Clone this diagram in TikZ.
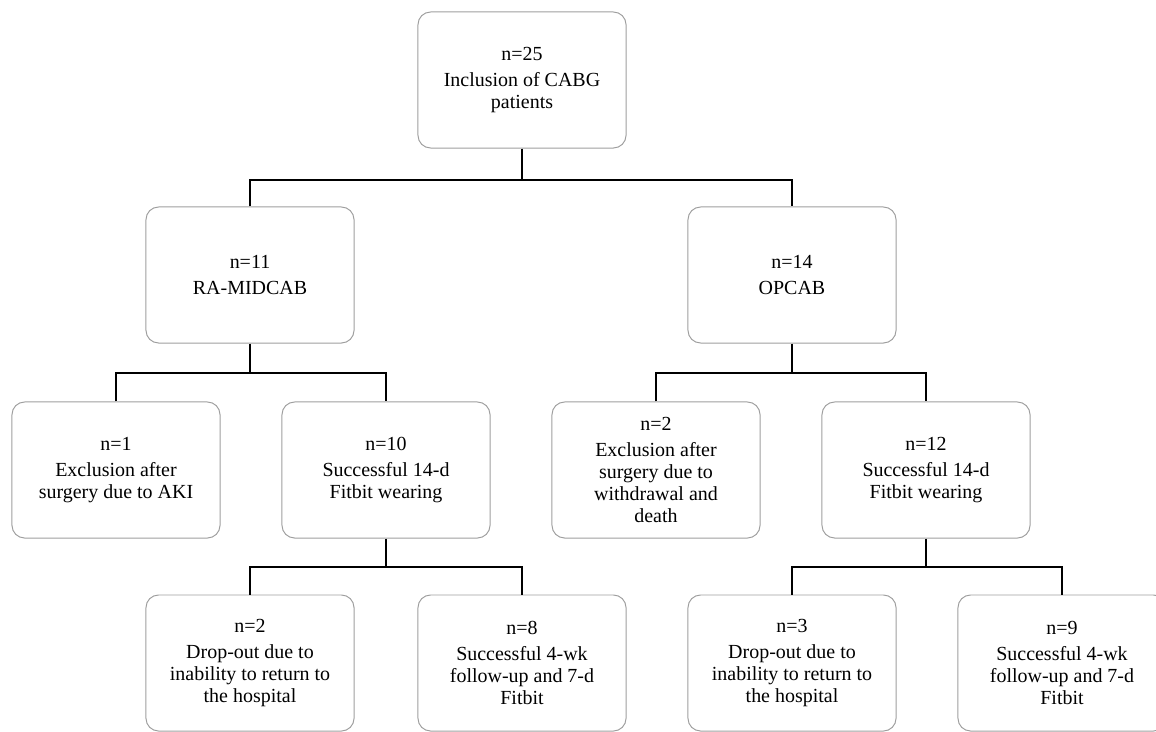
\documentclass[tikz,border=0pt]{standalone}
\usepackage{fontspec}
\setmainfont{Liberation Serif}
\begin{document}
\begin{tikzpicture}[x=0.025cm, y=-0.025cm,
    box/.style={draw=gray!75, line width=0.7pt, rounded corners=9pt,
      minimum width=5.2cm, minimum height=3.4cm, align=center,
      font=\fontsize{14.2}{15.6}\selectfont, inner sep=2pt},
    link/.style={draw=black, line width=1.4pt}]

    % Page frame, the bottom row runs off the edge
    \clip (0, 0) rectangle (1156, 731);
    \fill[white] (0, 0) rectangle (1156, 731);

    % Top box
    \node[box] (top) at (522, 80) {n=25\\[2.5pt]Inclusion of CABG\\patients};

    % Second row: surgery type
    \node[box] (midcab) at (250, 275) {n=11\\[2.5pt]RA-MIDCAB};
    \node[box] (opcab) at (792, 275) {n=14\\[2.5pt]OPCAB};

    % Third row
    \node[box] (aki) at (116, 470) {n=1\\[2.5pt]Exclusion after\\surgery due to AKI};
    \node[box] (fitA) at (386, 470) {n=10\\[2.5pt]Successful 14-d\\Fitbit wearing};
    \node[box] (exclB) at (656, 470) {n=2\\[2.5pt]Exclusion after\\surgery due to\\withdrawal and\\death};
    \node[box] (fitB) at (926, 470) {n=12\\[2.5pt]Successful 14-d\\Fitbit wearing};

    % Bottom row (cut off by the frame)
    \node[box] (dropA) at (250, 663) {n=2\\[2.5pt]Drop-out due to\\inability to return to\\the hospital};
    \node[box] (fuA) at (522, 663) {n=8\\[2.5pt]Successful 4-wk\\follow-up and 7-d\\Fitbit};
    \node[box] (dropB) at (792, 663) {n=3\\[2.5pt]Drop-out due to\\inability to return to\\the hospital};
    \node[box] (fuB) at (1062, 663) {n=9\\[2.5pt]Successful 4-wk\\follow-up and 7-d\\Fitbit};

    % Junction points of the connectors
    \coordinate (jTop) at (522, 180);
    \coordinate (jMid) at (250, 373);
    \coordinate (jOp) at (792, 373);
    \coordinate (jFitA) at (386, 567);
    \coordinate (jFitB) at (926, 567);

    % Connectors
    \draw[link] (top.south) -- (jTop);
    \draw[link] (midcab.north) |- (jTop) -| (opcab.north);

    \draw[link] (midcab.south) -- (jMid);
    \draw[link] (aki.north) |- (jMid) -| (fitA.north);

    \draw[link] (opcab.south) -- (jOp);
    \draw[link] (exclB.north) |- (jOp) -| (fitB.north);

    \draw[link] (fitA.south) -- (jFitA);
    \draw[link] (dropA.north) |- (jFitA) -| (fuA.north);

    \draw[link] (fitB.south) -- (jFitB);
    \draw[link] (dropB.north) |- (jFitB) -| (fuB.north);

\end{tikzpicture}
\end{document}
